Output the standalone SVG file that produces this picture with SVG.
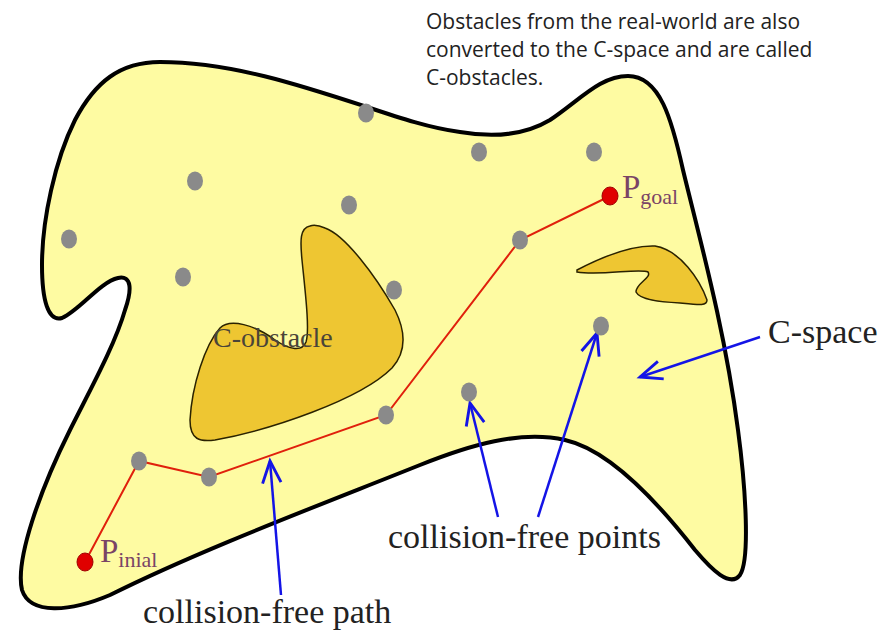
<svg xmlns="http://www.w3.org/2000/svg" width="893" height="633" viewBox="0 0 893 633">
<style>
.note{font-family:"Open Sans","Liberation Sans",sans-serif;font-size:21px;fill:#222}
.lbl{font-family:"Liberation Serif","Times New Roman",serif;font-size:34px;fill:#222}
.p{font-family:"Liberation Serif","Times New Roman",serif;fill:#7a4466}
.dot{fill:#8a8a8a}
.red{fill:#e00000;stroke:#a00000;stroke-width:1}
.obs{fill:#eec632;stroke:#2a2200;stroke-width:1.5}
.arrow{fill:none;stroke:#1414e6;stroke-width:2.5;marker-end:url(#open)}
</style>
<defs>
<marker id="open" markerUnits="userSpaceOnUse" markerWidth="30" markerHeight="30" refX="0" refY="0" viewBox="-22 -12 26 24" orient="auto">
<path d="M -19,-8 L 0,0 L -19,8" fill="none" stroke="#1414e6" stroke-width="2.5"/>
</marker>
</defs>
<rect width="893" height="633" fill="#fff"/>
<g id="note">
<text class="note" x="426" y="29">Obstacles from the real-world are also</text>
<text class="note" x="426" y="57">converted to the C-space and are called</text>
<text class="note" x="426" y="85">C-obstacles.</text>
</g>
<g id="cspace">
<path d="M 160,62 C 230,62 300,85 367,107 C 400,118 430,128 460,132 C 495,138 525,135 550,120 C 580,100 600,76 628,76 C 660,76 672,120 683,170 C 700,240 725,330 738,430 C 746,490 750,560 740,575 C 730,588 712,570 695,550 C 660,505 610,450 565,440 C 520,430 470,445 420,465 C 320,505 200,550 110,595 C 70,612 30,615 22,590 C 15,560 40,490 70,430 C 90,390 115,345 125,310 C 132,290 132,275 118,278 C 100,282 80,310 62,318 C 48,322 42,300 42,265 C 42,220 55,160 75,120 C 95,82 120,62 160,62 Z" fill="#fefba2" stroke="#000" stroke-width="4"/>
</g>
<g id="c-obstacle-1">
<path class="obs" d="M 310,226 C 300,228 300,240 302,260 C 305,290 310,330 306,342 C 302,352 290,350 275,340 C 255,325 230,318 220,328 C 205,345 192,385 190,420 C 190,440 200,442 215,440 C 270,430 360,400 392,368 C 408,350 405,330 395,310 C 375,275 345,235 325,228 C 318,225 313,225 310,226 Z"/>
<text x="213" y="347" font-family="Liberation Serif,Times New Roman,serif" font-size="28" fill="#4a4438">C-obstacle</text>
</g>
<g id="c-obstacle-2">
<path class="obs" d="M 577,270 C 600,258 630,245 655,246 C 680,250 700,280 707,300 C 707,306 700,305 680,303 C 660,302 640,300 636,292 C 636,283 652,278 648,272 C 640,268 600,276 577,272 Z"/>
</g>
<g id="connectors">
<polyline points="85,562 139,461 209,477 386,415 520,240 610,196" fill="none" stroke="#e0200c" stroke-width="2"/>
<line class="arrow" x1="760" y1="337" x2="640" y2="377"/>
<line class="arrow" x1="281" y1="595" x2="270" y2="461"/>
<line class="arrow" x1="498" y1="517" x2="470" y2="403"/>
<line class="arrow" x1="538" y1="517" x2="597" y2="333"/>
</g>
<g id="points">
<ellipse class="dot" cx="366" cy="113" rx="8" ry="9.5"/>
<ellipse class="dot" cx="479" cy="152" rx="8" ry="9.5"/>
<ellipse class="dot" cx="594" cy="152" rx="8" ry="9.5"/>
<ellipse class="dot" cx="195" cy="181" rx="8" ry="9.5"/>
<ellipse class="dot" cx="349" cy="205" rx="8" ry="9.5"/>
<ellipse class="dot" cx="69" cy="239" rx="8" ry="9.5"/>
<ellipse class="dot" cx="183" cy="277" rx="8" ry="9.5"/>
<ellipse class="dot" cx="394" cy="290" rx="8" ry="9.5"/>
<ellipse class="dot" cx="520" cy="240" rx="8" ry="9.5"/>
<ellipse class="dot" cx="601" cy="326" rx="8" ry="9.5"/>
<ellipse class="dot" cx="469" cy="392" rx="8" ry="9.5"/>
<ellipse class="dot" cx="386" cy="415" rx="8" ry="9.5"/>
<ellipse class="dot" cx="139" cy="461" rx="8" ry="9.5"/>
<ellipse class="dot" cx="209" cy="477" rx="8" ry="9.5"/>
</g>
<g id="p-goal">
<ellipse class="red" cx="610" cy="196" rx="8" ry="9"/>
<text class="p" x="622" y="198" font-size="33">P<tspan font-size="22" dy="6">goal</tspan></text>
</g>
<g id="p-inial">
<ellipse class="red" cx="85" cy="562" rx="8" ry="9"/>
<text class="p" x="100" y="562" font-size="33">P<tspan font-size="22" dy="5">inial</tspan></text>
</g>
<g id="labels">
<text class="lbl" x="768" y="343">C-space</text>
<text class="lbl" x="388" y="548">collision-free points</text>
<text class="lbl" x="143" y="623">collision-free path</text>
</g>
</svg>
